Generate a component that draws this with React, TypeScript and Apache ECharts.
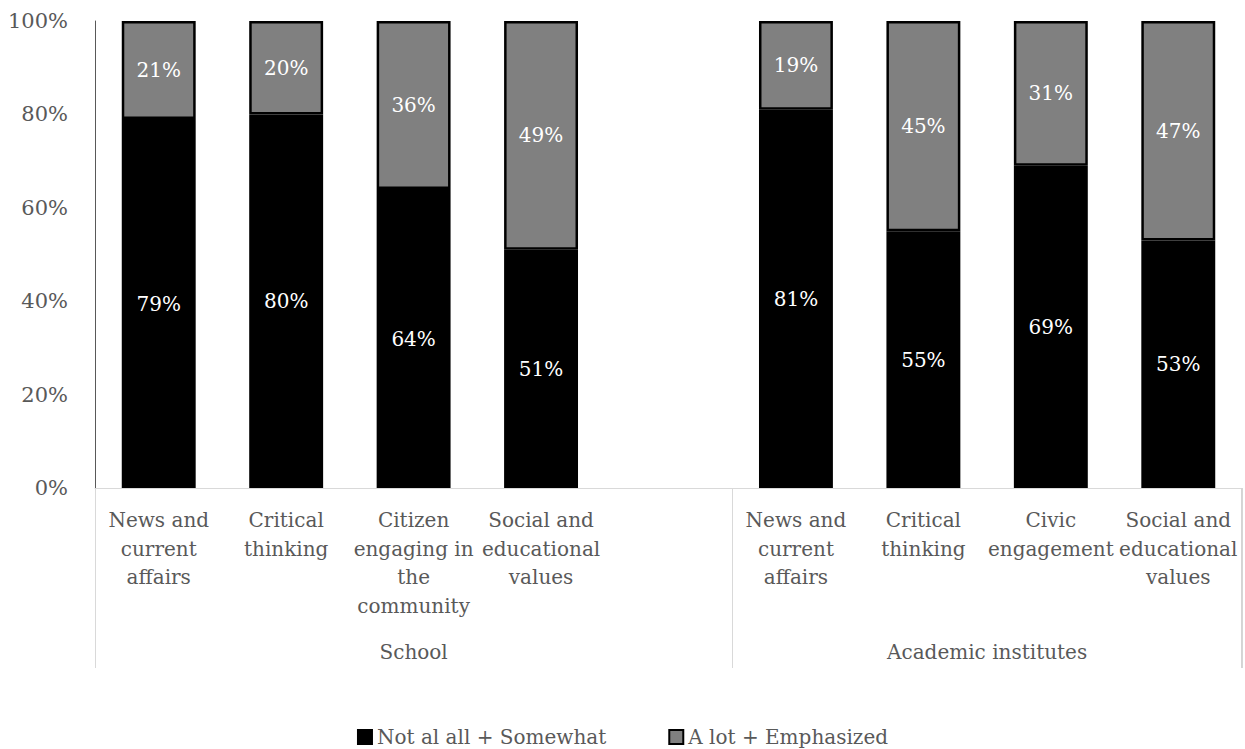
import React, { useEffect, useRef } from "react";
import * as echarts from "echarts";

const categories = [
  "News and\ncurrent\naffairs",
  "Critical\nthinking",
  "Citizen\nengaging in\nthe\ncommunity",
  "Social and\neducational\nvalues",
  "",
  "News and\ncurrent\naffairs",
  "Critical\nthinking",
  "Civic\nengagement",
  "Social and\neducational\nvalues",
];
const groupNames = ["School", "Academic institutes"];
const groupStarts = [0, 5];
const groupCenters = [2.5, 7];
const notAtAll: (number | string)[] = [79, 80, 64, 51, "-", 81, 55, 69, 53];
const aLot: (number | string)[] = [21, 20, 36, 49, "-", 19, 45, 31, 47];
const yTicks = { min: 0, max: 100, interval: 20 };

const FONT = "DejaVu Serif";
const TXT = "#595959";
const SEP_LEN = 180;
const W = 1245;
const GRID = { left: 95, right: 3, top: 21, bottom: 261 };

export default function App() {
  const ref = useRef<HTMLDivElement>(null);
  useEffect(() => {
    document.body.style.margin = "0";
    document.documentElement.style.overflow = "hidden";
    document.body.style.overflow = "hidden";
    const chart = echarts.init(ref.current!, null, { renderer: "svg" });
    chart.setOption({
      animation: false,
      textStyle: { fontFamily: FONT },
      grid: GRID,
      legend: {
        left: "center",
        top: 722,
        itemWidth: 14,
        itemHeight: 14,
        itemGap: 62,
        icon: "rect",
        textStyle: { fontFamily: FONT, fontSize: 20, color: TXT },
        data: ["Not al all + Somewhat", "A lot + Emphasized"],
      },
      xAxis: [
        {
          type: "category",
          data: categories,
          axisLine: { lineStyle: { color: "#d9d9d9", width: 1 } },
          axisTick: {
            show: true,
            length: SEP_LEN,
            interval: (index: number) => groupStarts.includes(index),
            lineStyle: { color: "#d9d9d9", width: 1 },
          },
          axisLabel: {
            interval: 0,
            fontFamily: FONT,
            fontSize: 20,
            color: TXT,
            lineHeight: 28.5,
            margin: 18,
            verticalAlign: "top",
          },
        },
        {
          type: "value",
          min: 0,
          max: 9,
          position: "bottom",
          gridIndex: 0,
          splitLine: { show: false },
          axisLine: { show: false },
          axisTick: { show: false },
          axisLabel: {
            customValues: groupCenters,
            formatter: (v: number) => groupNames[groupCenters.indexOf(v)] ?? "",
            fontFamily: FONT,
            fontSize: 20,
            color: TXT,
            margin: 154,
            verticalAlign: "top",
          },
        },
      ],
      yAxis: {
        type: "value",
        ...yTicks,
        axisLine: { show: true, lineStyle: { color: "#595959", width: 1 } },
        axisTick: { show: false },
        splitLine: { show: false },
        axisLabel: {
          formatter: "{value}%",
          fontFamily: FONT,
          fontSize: 21,
          color: TXT,
          margin: 27,
        },
      },
      series: [
        {
          name: "Not al all + Somewhat",
          type: "bar",
          stack: "total",
          xAxisIndex: 0,
          barWidth: "58%",
          data: notAtAll,
          itemStyle: { color: "#000000", borderColor: "#000000", borderWidth: 2.5 },
          label: {
            show: true,
            position: "inside",
            formatter: "{c}%",
            color: "#ffffff",
            fontFamily: FONT,
            fontSize: 20,
          },
        },
        {
          name: "A lot + Emphasized",
          type: "bar",
          stack: "total",
          xAxisIndex: 0,
          barWidth: "58%",
          data: aLot,
          itemStyle: { color: "#808080", borderColor: "#000000", borderWidth: 2.5 },
          label: {
            show: true,
            position: "inside",
            formatter: "{c}%",
            color: "#ffffff",
            fontFamily: FONT,
            fontSize: 20,
          },
        },
      ],
    });
    let xEnd = Number(chart.convertToPixel({ xAxisIndex: 1 }, categories.length));
    if (!isFinite(xEnd)) xEnd = W - GRID.right;
    let yBase = Number(chart.convertToPixel({ yAxisIndex: 0 }, 0));
    if (!isFinite(yBase)) yBase = 749 - GRID.bottom;
    chart.setOption({
      graphic: {
        elements: [
          {
            type: "rect",
            left: Math.round(xEnd) - 1,
            top: yBase,
            shape: { width: 1.5, height: SEP_LEN },
            style: { fill: "#d4d4d4" },
            z: 100,
            silent: true,
          },
        ],
      },
    });
    return () => chart.dispose();
  }, []);
  return <div ref={ref} style={{ width: W, height: 749 }} />;
}
